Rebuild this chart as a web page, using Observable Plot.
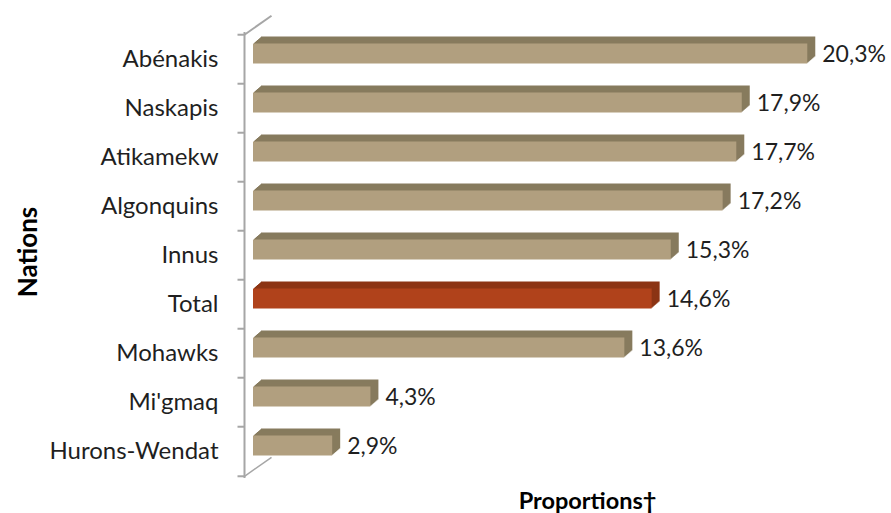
<!DOCTYPE html>
<html><head><meta charset="utf-8">
<script src="https://cdn.jsdelivr.net/npm/d3@7"></script>
<script src="https://cdn.jsdelivr.net/npm/@observablehq/plot@0.6"></script>
<style>body{margin:0;background:#fff}</style>
</head><body><div id="chart"></div>
<script>
const nations = ["Abénakis","Naskapis","Atikamekw","Algonquins","Innus","Total","Mohawks","Mi'gmaq","Hurons-Wendat"];
const values = [20.3, 17.9, 17.7, 17.2, 15.3, 14.6, 13.6, 4.3, 2.9];
const highlight = "Total";
const xLabel = "Proportions†";
const yLabel = "Nations";

const data = nations.map((n, i) => ({nation: n, value: values[i]}));
const fmt = v => v.toFixed(1).replace(".", ",") + "%";

const W = 891, H = 513, mL = 253, mR = 10, mT = 32, mB = 35;
const step = (H - mT - mB) / nations.length;
const DEPTH_X = 8, DEPTH_Y = 7, DEPTH_N = 8;
const lift = -5.5;

const frontCol = d => d.nation === highlight ? "#b0421b" : "#b19f7f";
const topCol = d => d.nation === highlight ? "#8c3515" : "#877b5e";
const sideCol = d => d.nation === highlight ? "#7a2d10" : "#7a6f55";
const axisCol = "#a6a6a6";
const textCol = "#1f1f1f";
const font = "Lato";

const tickSym = {draw(ctx) { ctx.moveTo(-7, 0); ctx.lineTo(0, 0); }};
const diagSym = {draw(ctx) { ctx.moveTo(0, 0); ctx.lineTo(27, -19); }};

const marks = [];
// axis decorations
marks.push(Plot.ruleX([0], {dx: -9, stroke: axisCol, strokeWidth: 2}));
marks.push(Plot.dot(data, {x: 0, y: "nation", dx: -9, dy: -step / 2, symbol: tickSym, stroke: axisCol, strokeWidth: 2, fill: "none"}));
marks.push(Plot.dot([data[data.length - 1]], {x: 0, y: "nation", dx: -9, dy: step / 2, symbol: tickSym, stroke: axisCol, strokeWidth: 2, fill: "none"}));
marks.push(Plot.dot([data[0]], {x: 0, y: "nation", dx: -9, dy: -step / 2, symbol: diagSym, stroke: axisCol, strokeWidth: 2, fill: "none"}));
marks.push(Plot.dot([data[data.length - 1]], {x: 0, y: "nation", dx: -9, dy: step / 2, symbol: diagSym, stroke: axisCol, strokeWidth: 1.5, fill: "none"}));

// extrusion (top face)
for (let k = DEPTH_N; k >= 1; k--) {
  marks.push(Plot.barX(data, {x: "value", y: "nation", fill: topCol, dx: k * DEPTH_X / DEPTH_N, dy: lift - k * DEPTH_Y / DEPTH_N}));
}
// side face
for (let k = 1; k <= DEPTH_N; k++) {
  marks.push(Plot.ruleX(data, {x: "value", y: "nation", stroke: sideCol, strokeWidth: 1.3, dx: k * DEPTH_X / DEPTH_N - 0.3, dy: lift - k * DEPTH_Y / DEPTH_N}));
}
// front face
marks.push(Plot.barX(data, {x: "value", y: "nation", fill: frontCol, dy: lift}));

// labels
marks.push(Plot.text(data, {x: 0, y: "nation", text: "nation", dx: -35, textAnchor: "end", fontSize: 24, fill: textCol}));
marks.push(Plot.text(data, {x: "value", y: "nation", text: d => fmt(d.value), dx: 14.5, dy: -5, textAnchor: "start", fontSize: 23, fill: textCol}));
marks.push(Plot.text([yLabel], {frameAnchor: "left", text: d => d, rotate: -90, textAnchor: "middle", lineAnchor: "middle", dx: -225, dy: -3.5, fontSize: 26, fontWeight: "bold", fill: "#000"}));
marks.push(Plot.text([xLabel], {frameAnchor: "bottom", text: d => d, textAnchor: "middle", lineAnchor: "middle", dx: 20, dy: 23, fontSize: 23.5, fontWeight: "bold", fill: "#000"}));

const chart = Plot.plot({
  width: W, height: H,
  marginLeft: mL, marginRight: mR, marginTop: mT, marginBottom: mB,
  style: {fontFamily: font, background: "#fff", overflow: "visible"},
  x: {domain: [0, 23], axis: null},
  y: {type: "band", domain: nations, paddingInner: 0.6, paddingOuter: 0.3, axis: null},
  color: {type: "identity"},
  marks
});
document.getElementById("chart").appendChild(chart);
</script>
</body></html>
